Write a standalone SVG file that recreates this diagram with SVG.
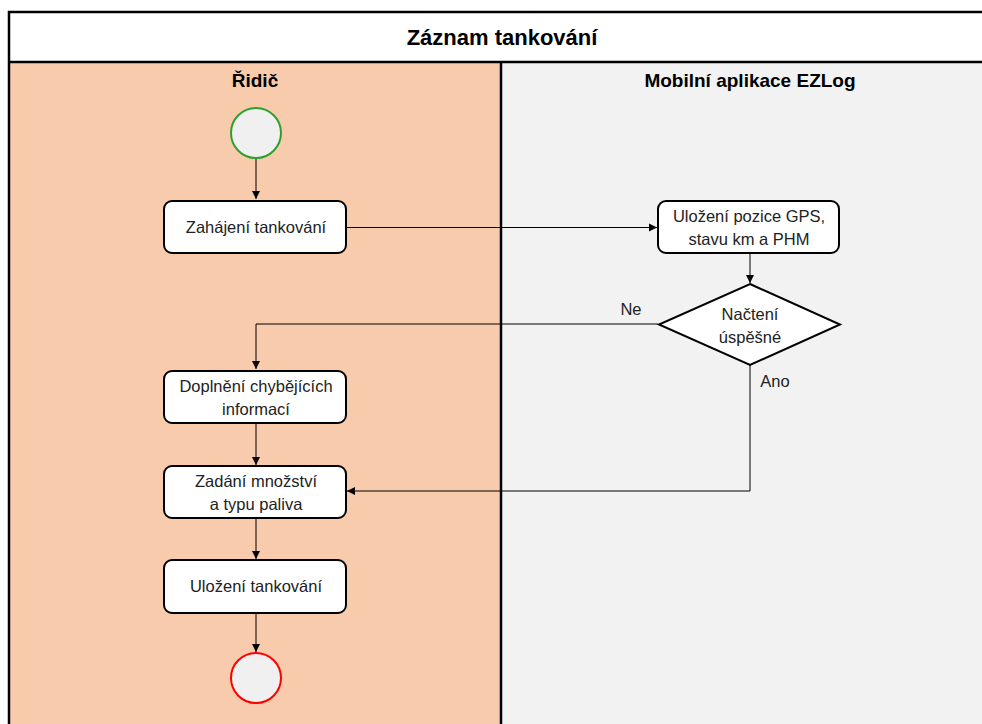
<svg xmlns="http://www.w3.org/2000/svg" width="982" height="724" viewBox="0 0 982 724">
<defs>
<marker id="arr" markerWidth="10" markerHeight="10" refX="9" refY="5" orient="auto" markerUnits="userSpaceOnUse">
<path d="M1,1 L9,5 L1,9 Z" fill="#000"/>
</marker>
<style>
.box{fill:#fff;stroke:#000;stroke-width:2}
.t{font-family:"Liberation Sans",Arial,sans-serif;font-size:16.5px;fill:#222;text-anchor:middle}
.h{font-family:"Liberation Sans",Arial,sans-serif;font-weight:bold;fill:#000;text-anchor:middle}
.c{fill:none;stroke:#000;stroke-width:1;marker-end:url(#arr)}
</style>
</defs>
<rect x="0" y="0" width="982" height="724" fill="#fff"/>
<g id="pool">
<rect x="9" y="12" width="990" height="720" fill="#fff"/>
<rect x="9" y="62" width="492" height="670" fill="#f8cbad"/>
<rect x="501" y="62" width="490" height="670" fill="#f2f2f2"/>
<path d="M9,740 V12 H990 M9,62 H990 M501,62 V740" fill="none" stroke="#000" stroke-width="2.5"/>
<text class="h" x="502" y="45" font-size="22">Záznam tankování</text>
<text class="h" x="255" y="87" font-size="19">Řidič</text>
<text class="h" x="750" y="87" font-size="19">Mobilní aplikace EZLog</text>
</g>
<g id="connectors">
<path class="c" d="M256,158 V199"/>
<path class="c" d="M346,227.5 H657"/>
<path class="c" d="M750,253 V283"/>
<path class="c" d="M658,324 H256 V369"/>
<path class="c" d="M750,365 V491 H347"/>
<path class="c" d="M256,423 V465"/>
<path class="c" d="M256,518 V559"/>
<path class="c" d="M256,613 V652"/>
<text class="t" x="631" y="315">Ne</text>
<text class="t" x="775" y="387">Ano</text>
</g>
<g id="start"><circle cx="256" cy="133" r="25" fill="#f0f0f0" stroke="#2ea02e" stroke-width="2"/></g>
<g id="zahajeni"><rect class="box" x="164" y="201" width="182" height="52" rx="8"/><text class="t" x="256" y="233">Zahájení tankování</text></g>
<g id="gps"><rect class="box" x="658" y="201" width="181" height="52" rx="8"/><text class="t" x="749" y="222">Uložení pozice GPS,</text><text class="t" x="749" y="245">stavu km a PHM</text></g>
<g id="decision"><polygon points="750,284 840,324.5 750,365 659,324.5" fill="#fff" stroke="#000" stroke-width="2"/><text class="t" x="750" y="320">Načtení</text><text class="t" x="750" y="343">úspěšné</text></g>
<g id="doplneni"><rect class="box" x="164" y="371" width="182" height="52" rx="8"/><text class="t" x="256" y="392">Doplnění chybějících</text><text class="t" x="256" y="415">informací</text></g>
<g id="zadani"><rect class="box" x="164" y="466" width="182" height="52" rx="8"/><text class="t" x="256" y="487">Zadání množství</text><text class="t" x="256" y="510">a typu paliva</text></g>
<g id="ulozeni"><rect class="box" x="164" y="560" width="182" height="53" rx="8"/><text class="t" x="256" y="592">Uložení tankování</text></g>
<g id="end"><circle cx="256" cy="678" r="25" fill="#f0f0f0" stroke="#f00" stroke-width="2"/></g>
</svg>
